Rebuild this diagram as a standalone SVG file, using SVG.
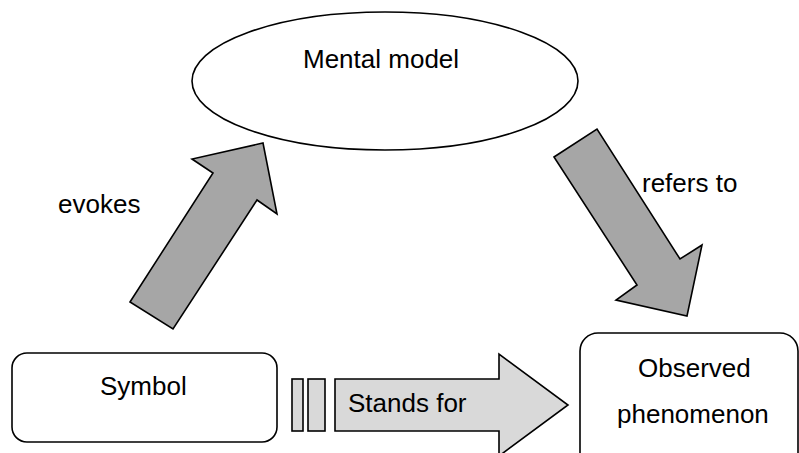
<svg xmlns="http://www.w3.org/2000/svg" width="799" height="453" viewBox="0 0 799 453">
<style>
text{font-family:"Liberation Sans",Arial,sans-serif;font-size:26px;fill:#000}
.node{fill:#fff;stroke:#000;stroke-width:1.6}
.dark{fill:#a6a6a6;stroke:#000;stroke-width:1.6;stroke-linejoin:miter}
.light{fill:#d9d9d9;stroke:#000;stroke-width:1.6;stroke-linejoin:miter}
</style>
<rect width="799" height="453" fill="#fff"/>
<g id="mental-model">
<ellipse class="node" cx="385" cy="81" rx="193" ry="69"/>
<text x="303" y="68">Mental model</text>
</g>
<g id="symbol">
<rect class="node" x="12" y="353" width="265" height="89" rx="15"/>
<text x="100" y="395">Symbol</text>
</g>
<g id="observed-phenomenon">
<rect class="node" x="580" y="333" width="218" height="140" rx="18"/>
<text x="638" y="377">Observed</text>
<text x="617" y="423">phenomenon</text>
</g>
<g id="connectors">
<polygon class="dark" points="130,302 213,173 192,159 263,143 277,214 257,200 173,329"/>
<text x="58" y="213">evokes</text>
<polygon class="dark" points="554,157 597,129 680,259 702,245 687,316 616,300 637,285"/>
<text x="642" y="192">refers to</text>
<rect class="light" x="292" y="379" width="11" height="52"/>
<rect class="light" x="308" y="379" width="17" height="52"/>
<polygon class="light" points="335,379 499,379 499,354 568,405 499,456 499,431 335,431"/>
<text x="348" y="412">Stands for</text>
</g>
</svg>
